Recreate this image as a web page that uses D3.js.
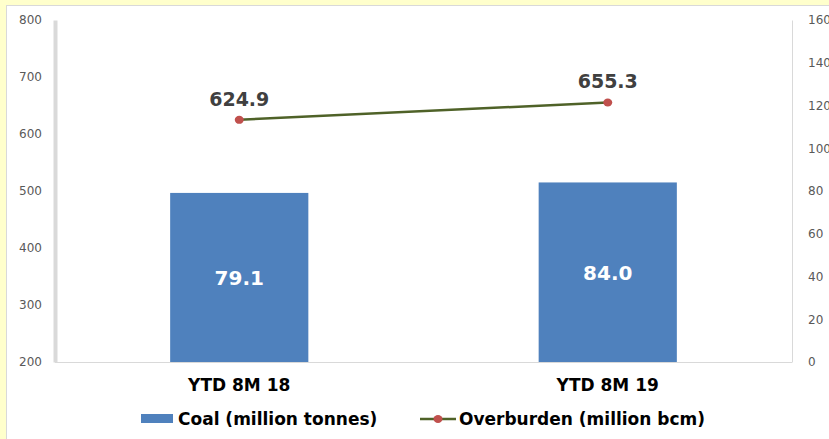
<!DOCTYPE html>
<html>
<head>
<meta charset="utf-8">
<script src="https://cdn.jsdelivr.net/npm/d3@7"></script>
<style>
  html, body { margin: 0; padding: 0; background: #ffffcc; }
  svg { display: block; }
</style>
</head>
<body>
<svg id="chart" width="829" height="439"></svg>
<script>
const categories = ['YTD 8M 18', 'YTD 8M 19'];
const coal = [79.1, 84.0];
const overburden = [624.9, 655.3];
const leftTicks = [200, 300, 400, 500, 600, 700, 800];
const rightTicks = [0, 20, 40, 60, 80, 100, 120, 140, 160];

const svg = d3.select('#chart');
const plot = { left: 55, right: 792, top: 20, bottom: 362 };
const labelFont = 'DejaVu Sans, sans-serif';

// white panel
svg.append('rect').attr('x', 6.5).attr('y', 5.5).attr('width', 840).attr('height', 450)
  .attr('fill', '#fff').attr('stroke', '#d9d9d9');

const x = d3.scaleBand().domain(categories).range([plot.left, plot.right])
  .paddingInner(0.625).paddingOuter(0.3125);
const yLeft = d3.scaleLinear().domain([200, 800]).range([plot.bottom, plot.top]);
const yRight = d3.scaleLinear().domain([0, 160]).range([plot.bottom, plot.top]);

// axes
const leftAxis = svg.append('g').attr('transform', `translate(${plot.left},0)`)
  .call(d3.axisLeft(yLeft).tickValues(leftTicks).tickSize(0).tickPadding(13));
leftAxis.select('.domain').attr('stroke', '#d9d9d9').attr('stroke-width', 4);

const rightAxis = svg.append('g').attr('transform', `translate(${plot.right},0)`)
  .call(d3.axisRight(yRight).tickValues(rightTicks).tickSize(0).tickPadding(16));
rightAxis.select('.domain').attr('stroke', '#d9d9d9').attr('stroke-width', 1);

svg.selectAll('.tick text').attr('fill', '#595959')
  .style('font-family', labelFont).style('font-size', '12px');

svg.append('line').attr('x1', plot.left).attr('x2', plot.right)
  .attr('y1', plot.bottom + 0.5).attr('y2', plot.bottom + 0.5)
  .attr('stroke', '#d9d9d9');

// bars (right axis)
svg.selectAll('rect.bar').data(coal).join('rect').attr('class', 'bar')
  .attr('x', (d, i) => x(categories[i]))
  .attr('width', x.bandwidth())
  .attr('y', d => yRight(d))
  .attr('height', d => yRight(0) - yRight(d))
  .attr('fill', '#4f81bd');

svg.selectAll('text.barlabel').data(coal).join('text').attr('class', 'barlabel')
  .attr('x', (d, i) => x(categories[i]) + x.bandwidth() / 2)
  .attr('y', d => (yRight(d) + yRight(0)) / 2 + 8)
  .attr('text-anchor', 'middle')
  .attr('fill', '#fff')
  .style('font-family', labelFont).style('font-weight', 'bold').style('font-size', '20px')
  .text(d => d.toFixed(1));

// line (left axis)
const cx = (d, i) => x(categories[i]) + x.bandwidth() / 2;
const line = d3.line().x(cx).y(d => yLeft(d));
svg.append('path').datum(overburden).attr('d', line)
  .attr('fill', 'none').attr('stroke', '#4f6228').attr('stroke-width', 2.5);

svg.selectAll('ellipse.pt').data(overburden).join('ellipse').attr('class', 'pt')
  .attr('cx', cx).attr('cy', d => yLeft(d)).attr('rx', 4.5).attr('ry', 4)
  .attr('fill', '#c0504d');

svg.selectAll('text.ptlabel').data(overburden).join('text').attr('class', 'ptlabel')
  .attr('x', cx).attr('y', d => yLeft(d) - 14)
  .attr('text-anchor', 'middle')
  .attr('fill', '#404040')
  .style('font-family', labelFont).style('font-weight', 'bold').style('font-size', '19px')
  .text(d => d.toFixed(1));

// category labels
svg.selectAll('text.cat').data(categories).join('text').attr('class', 'cat')
  .attr('x', d => x(d) + x.bandwidth() / 2).attr('y', 391)
  .attr('text-anchor', 'middle').attr('fill', '#000')
  .style('font-family', labelFont).style('font-weight', 'bold').style('font-size', '17px')
  .text(d => d);

// legend
const legend = svg.append('g')
  .style('font-family', labelFont).style('font-weight', 'bold').style('font-size', '17px');
legend.append('rect').attr('x', 141).attr('y', 414).attr('width', 32).attr('height', 9).attr('fill', '#4f81bd');
legend.append('text').attr('x', 178).attr('y', 425).text('Coal (million tonnes)');
legend.append('line').attr('x1', 420).attr('x2', 456).attr('y1', 419).attr('y2', 419)
  .attr('stroke', '#4f6228').attr('stroke-width', 2.5);
legend.append('ellipse').attr('cx', 438).attr('cy', 419).attr('rx', 4.5).attr('ry', 4).attr('fill', '#c0504d');
legend.append('text').attr('x', 459).attr('y', 425).text('Overburden (million bcm)');
</script>
</body>
</html>
